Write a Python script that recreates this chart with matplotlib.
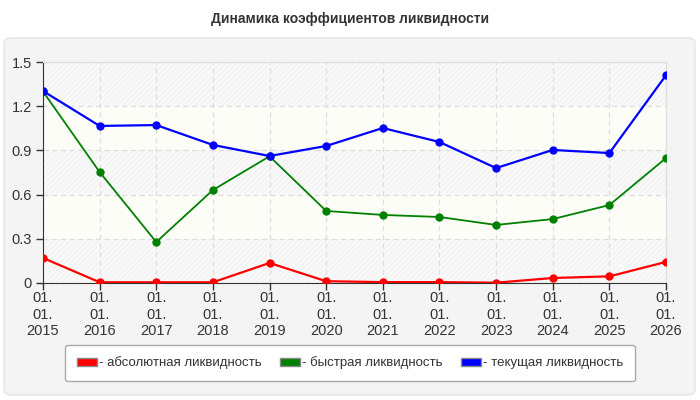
import matplotlib.pyplot as plt
from matplotlib.patches import FancyBboxPatch, Patch

years = ["2015", "2016", "2017", "2018", "2019", "2020", "2021", "2022", "2023", "2024", "2025", "2026"]
absolute = [0.17, 0.005, 0.005, 0.005, 0.136, 0.012, 0.006, 0.006, 0.002, 0.034, 0.045, 0.143]
quick = [1.30, 0.753, 0.278, 0.631, 0.86, 0.489, 0.462, 0.448, 0.394, 0.434, 0.529, 0.848]
current = [1.303, 1.066, 1.072, 0.937, 0.862, 0.93, 1.052, 0.957, 0.78, 0.903, 0.882, 1.41]
yticks = [0, 0.3, 0.6, 0.9, 1.2, 1.5]

plt.rcParams['font.family'] = ['Liberation Sans', 'DejaVu Sans']
plt.rcParams['hatch.linewidth'] = 0.5

fig = plt.figure(figsize=(7, 4), dpi=100)
fig.patch.set_facecolor("white")

# rounded grey panel behind everything
panel = FancyBboxPatch((4 / 700, 5 / 400), 691 / 700, 357 / 400,
                       boxstyle="round,pad=0,rounding_size=0.012",
                       transform=fig.transFigure, facecolor="#f4f4f4",
                       edgecolor="#e4e4e4", linewidth=1, zorder=-5)
fig.patches.append(panel)

fig.text(0.5, 0.952, "Динамика коэффициентов ликвидности", ha="center", va="center",
         fontsize=10, fontweight="bold", color="#333333")

ax = fig.add_axes([43 / 700, 117 / 400, 623 / 700, 221 / 400])
ax.set_zorder(2)
ax.set_facecolor("#fbfbf8")
x = list(range(len(years)))

# alternating bands: hatched / cream
for i in range(len(yticks) - 1):
    if i % 2 == 0:
        ax.axhspan(yticks[i], yticks[i + 1], facecolor="#f9f9f9", edgecolor="#eeeeee",
                   hatch="//////", linewidth=0, zorder=0)
    else:
        ax.axhspan(yticks[i], yticks[i + 1], facecolor="#fdfdf8", linewidth=0, zorder=0)

ax.grid(True, color="#dddddd", linestyle=(0, (4, 3)), linewidth=0.9, zorder=1)

ax.plot(x, absolute, color="#ff0000", linewidth=1.6, marker="o", markersize=5, zorder=3)
ax.plot(x, quick, color="#008000", linewidth=1.3, marker="o", markersize=5, zorder=3)
ax.plot(x, current, color="#0000ff", linewidth=1.6, marker="o", markersize=5, zorder=3)

ax.set_xlim(0, len(years) - 1)
ax.set_ylim(0, 1.5)
ax.set_yticks(yticks)
ax.set_yticklabels(["0", "0.3", "0.6", "0.9", "1.2", "1.5"])
ax.set_xticks(x)
ax.set_xticklabels(["01.\n01.\n" + y for y in years], linespacing=1.2)
ax.tick_params(axis="both", labelsize=10.5, colors="#333333", length=5, width=1,
               direction="out")
ax.tick_params(axis="x", pad=1)
ax.tick_params(axis="y", pad=3)

for side in ["top", "right"]:
    ax.spines[side].set_color("#dddddd")
ax.spines["left"].set_color("#333333")
ax.spines["bottom"].set_color("#333333")

# legend
handles = [Patch(facecolor="#ff0000", edgecolor="#888888"),
           Patch(facecolor="#008000", edgecolor="#888888"),
           Patch(facecolor="#0000ff", edgecolor="#888888")]
labels = ["- абсолютная ликвидность", "- быстрая ликвидность", "- текущая ликвидность"]
leg = fig.legend(handles, labels, loc="center", bbox_to_anchor=(350 / 700, 1 - 363 / 400),
                 ncol=3, fontsize=9.5, frameon=True, fancybox=True,
                 handlelength=1.5, handleheight=0.6, handletextpad=0.15,
                 columnspacing=1.4, borderpad=0.9)
leg.get_frame().set_edgecolor("#aaaaaa")
leg.get_frame().set_facecolor("white")
leg.get_frame().set_alpha(1)
for t in leg.get_texts():
    t.set_color("#333333")

fig.savefig("out.png", dpi=100, facecolor=fig.get_facecolor())
